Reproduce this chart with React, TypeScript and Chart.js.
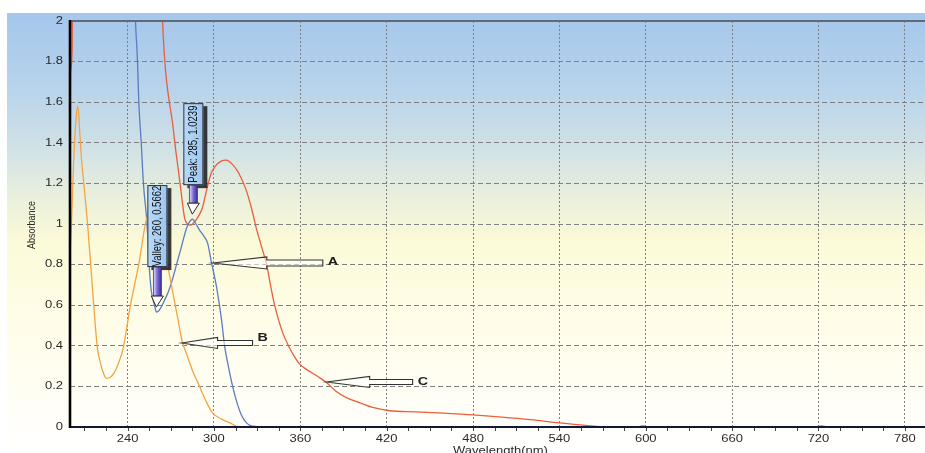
import React, { useEffect, useRef } from "react";
import { Chart, registerables } from "chart.js";
Chart.register(...registerables);

// ---------- data ----------
const WL_A = [200, 201.5, 243, 245.5, 246.9, 247.8, 249.5, 251, 253.5, 254.8, 256.3, 258.7, 260, 262, 265.7, 268, 270.9, 274, 277.5, 281, 283, 285, 287.5, 290, 293, 295.6, 298.3, 301.8, 305.3, 307.4, 310, 313, 316, 319, 322, 325, 330, 340, 594, 598, 602, 718, 722, 726, 794];
const ABS_A = [1.4, 2.6, 2.6, 2.0, 1.8, 1.6, 1.4, 1.2, 1.0, 0.82, 0.68, 0.6, 0.566, 0.575, 0.625, 0.66, 0.72, 0.8, 0.89, 0.98, 1.01, 1.024, 1.0, 0.97, 0.94, 0.906, 0.81, 0.69, 0.527, 0.4, 0.3, 0.2, 0.12, 0.06, 0.025, 0.008, 0.002, 0, 0, 0.006, 0, 0, 0.005, 0, 0];

const WL_B = [200, 201, 202.5, 204, 205.5, 206.8, 208, 209.6, 212.2, 214.5, 216.5, 219, 221, 223, 225.2, 228, 231, 234, 237, 242, 248, 253, 256, 259, 262, 265, 268, 271.5, 275, 278, 281, 285, 290, 295, 299, 305, 311, 318, 794];
const ABS_B = [0.85, 1.0, 1.3, 1.5, 1.58, 1.45, 1.32, 1.2, 1.0, 0.79, 0.6, 0.39, 0.32, 0.27, 0.24, 0.245, 0.27, 0.32, 0.39, 0.6, 0.81, 1.02, 1.055, 1.06, 1.0, 0.9, 0.79, 0.66, 0.53, 0.42, 0.36, 0.28, 0.2, 0.12, 0.07, 0.04, 0.02, 0, 0];

const WL_C = [200, 201.5, 202, 262, 264.3, 265.7, 267, 269, 271.2, 273.5, 276.1, 278, 279.6, 281.5, 284, 286.5, 289, 292, 295, 298.1, 301, 305, 308.8, 312, 316, 319, 322.4, 326, 329.4, 333, 336.6, 339, 341.5, 344, 348, 352.5, 356, 359.5, 364, 368.5, 373, 378, 385, 392, 401, 411, 422, 440, 460, 479.7, 500, 520, 540, 558, 577, 794];
const ABS_C = [1.75, 1.85, 2.6, 2.6, 2.0, 1.82, 1.71, 1.6, 1.5, 1.36, 1.22, 1.11, 1.03, 1.0, 0.995, 1.01, 1.035, 1.08, 1.17, 1.25, 1.285, 1.31, 1.315, 1.3, 1.265, 1.225, 1.167, 1.08, 0.98, 0.89, 0.8, 0.71, 0.62, 0.55, 0.46, 0.39, 0.345, 0.31, 0.285, 0.265, 0.245, 0.22, 0.175, 0.145, 0.12, 0.095, 0.08, 0.075, 0.068, 0.06, 0.049, 0.036, 0.02, 0.008, 0, 0];

const X_TICKS = [240, 300, 360, 420, 480, 540, 600, 660, 720, 780];
const Y_TICKS = [0, 0.2, 0.4, 0.6, 0.8, 1, 1.2, 1.4, 1.6, 1.8, 2];
const X_MIN = 200;
const X_MAX = 794;
const X_MINOR_STEP = 15;
const X_TITLE = "Wavelength(nm)";
const Y_TITLE = "Absorbance";

const MARKERS = [
  { wl: 285, abs: 1.0239, text: "Peak: 285, 1.0239" },
  { wl: 260, abs: 0.5662, text: "Valley: 260, 0.5662" },
];
const CALLOUT_LABELS = ["A", "B", "C"];
const CALLOUT_WL = [299.2, 277.5, 378.3];
const CALLOUT_ABS = [0.808, 0.414, 0.222];

// ---------- styles ----------
const SX = 1.3;
const FONT = "Liberation Sans, Arial, sans-serif";
const MARKER_SHAFT = [18, 29];
const CALLOUT_GEOM = [
  { head: 54, shaft: 56, hh: 6, sh: 3, dy: -1 },
  { head: 36, shaft: 35, hh: 5.5, sh: 2.5, dy: -5 },
  { head: 43, shaft: 43, hh: 5.5, sh: 2.5, dy: 0 },
];

function txt(ctx: CanvasRenderingContext2D, s: string, x: number, y: number, font: string, color: string, align: CanvasTextAlign, baseline: CanvasTextBaseline, rot = 0) {
  ctx.save();
  ctx.translate(x, y);
  ctx.scale(SX, 1);
  if (rot) ctx.rotate(rot);
  ctx.font = font;
  ctx.fillStyle = color;
  ctx.textAlign = align;
  ctx.textBaseline = baseline;
  ctx.fillText(s, 0, 0);
  ctx.restore();
}

const decoPlugin = {
  id: "deco",
  beforeDraw(chart: any) {
    const ctx: CanvasRenderingContext2D = chart.ctx;
    const W = chart.width, H = chart.height;
    ctx.save();
    ctx.fillStyle = "#ffffff";
    ctx.fillRect(0, 0, W, H);
    const g = ctx.createLinearGradient(0, 13, 0, H);
    g.addColorStop(0, "#a5c7ec");
    g.addColorStop(0.18, "#b9d4eb");
    g.addColorStop(0.32, "#d3e3e5");
    g.addColorStop(0.42, "#eaf0dc");
    g.addColorStop(0.52, "#fbfad8");
    g.addColorStop(0.7, "#fffde8");
    g.addColorStop(1, "#ffffff");
    ctx.fillStyle = g;
    ctx.fillRect(7, 13, W - 7, H - 13);
    ctx.restore();
  },
  afterDatasetsDraw(chart: any) {
    const ctx: CanvasRenderingContext2D = chart.ctx;
    const { left, right, top, bottom } = chart.chartArea;
    const xs = chart.scales.x, ys = chart.scales.y;
    ctx.save();
    ctx.strokeStyle = "#5d6b7a";
    ctx.lineWidth = 1.8;
    ctx.beginPath();
    ctx.moveTo(left, top);
    ctx.lineTo(right, top);
    ctx.stroke();
    ctx.strokeStyle = "#101a38";
    ctx.lineWidth = 2;
    ctx.beginPath();
    ctx.moveTo(left, bottom);
    ctx.lineTo(right, bottom);
    ctx.stroke();
    ctx.strokeStyle = "#000000";
    ctx.lineWidth = 2.6;
    ctx.beginPath();
    ctx.moveTo(left, top - 1);
    ctx.lineTo(left, bottom + 1);
    ctx.stroke();
    ctx.strokeStyle = "#444";
    ctx.lineWidth = 1;
    for (let v = Math.ceil(X_MIN / X_MINOR_STEP) * X_MINOR_STEP; v <= X_MAX; v += X_MINOR_STEP) {
      if (v === X_MIN) continue;
      const px = Math.round(xs.getPixelForValue(v)) + 0.5;
      ctx.beginPath();
      ctx.moveTo(px, bottom + 1);
      ctx.lineTo(px, bottom + 4);
      ctx.stroke();
    }
    ctx.restore();

    for (const v of X_TICKS) {
      txt(ctx, String(v), xs.getPixelForValue(v), bottom + 12, `10px ${FONT}`, "#2b2b2b", "center", "middle");
    }
    for (const v of Y_TICKS) {
      txt(ctx, String(+v.toFixed(1)), left - 7, ys.getPixelForValue(v), `10px ${FONT}`, "#2b2b2b", "right", "middle");
    }
    txt(ctx, X_TITLE, (left + right) / 2 + 3, 454, `10px ${FONT}`, "#2b2b2b", "center", "alphabetic");
    txt(ctx, Y_TITLE, 32, (top + bottom) / 2 + 1, `9px ${FONT}`, "#2b2b2b", "center", "middle", -Math.PI / 2);

    MARKERS.forEach((m, i) => {
      const px = xs.getPixelForValue(m.wl);
      const py = ys.getPixelForValue(m.abs);
      const tipY = py - 5;
      const headH = 11, headW = 12, shaftW = 8, boxW = 20, boxH = 82;
      const headTop = tipY - headH;
      const shaftTop = headTop - MARKER_SHAFT[i];
      const boxTop = shaftTop - boxH;
      const cx = px + 1;
      ctx.save();
      ctx.fillStyle = "rgba(35,35,40,0.9)";
      ctx.fillRect(cx - boxW / 2 + 4, boxTop + 3, boxW, boxH);
      const bg = ctx.createLinearGradient(cx - boxW / 2, 0, cx + boxW / 2, 0);
      bg.addColorStop(0, "#b8daf8");
      bg.addColorStop(1, "#9cc6f0");
      ctx.fillStyle = bg;
      ctx.fillRect(cx - boxW / 2, boxTop, boxW, boxH);
      ctx.strokeStyle = "#2e3440";
      ctx.lineWidth = 1;
      ctx.strokeRect(cx - boxW / 2 + 0.5, boxTop + 0.5, boxW - 1, boxH - 1);
      ctx.restore();
      txt(ctx, m.text, cx, boxTop + boxH / 2, `9.5px ${FONT}`, "#111", "center", "middle", -Math.PI / 2);
      ctx.save();
      const sg = ctx.createLinearGradient(cx - shaftW / 2, 0, cx + shaftW / 2, 0);
      sg.addColorStop(0, "#e4e2ff");
      sg.addColorStop(0.5, "#7a6ad8");
      sg.addColorStop(1, "#3c2d9a");
      ctx.fillStyle = sg;
      ctx.fillRect(cx - shaftW / 2, shaftTop, shaftW, MARKER_SHAFT[i]);
      ctx.strokeStyle = "#3a3a50";
      ctx.lineWidth = 0.8;
      ctx.strokeRect(cx - shaftW / 2, shaftTop, shaftW, MARKER_SHAFT[i]);
      ctx.beginPath();
      ctx.moveTo(cx - headW / 2, headTop);
      ctx.lineTo(cx + headW / 2, headTop);
      ctx.lineTo(px, tipY);
      ctx.closePath();
      ctx.fillStyle = "#ffffff";
      ctx.fill();
      ctx.strokeStyle = "#2a2a2a";
      ctx.lineWidth = 1;
      ctx.stroke();
      ctx.restore();
    });

    CALLOUT_LABELS.forEach((lab, i) => {
      const g = CALLOUT_GEOM[i];
      const tx = xs.getPixelForValue(CALLOUT_WL[i]);
      const ty = ys.getPixelForValue(CALLOUT_ABS[i]);
      const hx = tx + g.head, ex = hx + g.shaft;
      ctx.save();
      ctx.beginPath();
      ctx.moveTo(tx, ty);
      ctx.lineTo(hx, ty - g.hh);
      ctx.lineTo(hx, ty - g.sh);
      ctx.lineTo(ex, ty - g.sh);
      ctx.lineTo(ex, ty + g.sh);
      ctx.lineTo(hx, ty + g.sh);
      ctx.lineTo(hx, ty + g.hh);
      ctx.closePath();
      ctx.fillStyle = "rgba(255,255,255,0.55)";
      ctx.fill();
      ctx.strokeStyle = "#333";
      ctx.lineWidth = 1.1;
      ctx.stroke();
      ctx.restore();
      txt(ctx, lab, ex + 5, ty + g.dy, `bold 11px ${FONT}`, "#1e1e1e", "left", "middle");
    });
  },
};

function makeData(xs: number[], ys: number[]) {
  return xs.map((x, i) => ({ x, y: ys[i] }));
}

export default function App() {
  const ref = useRef<HTMLCanvasElement>(null);
  useEffect(() => {
    const canvas = ref.current!;
    const line = { pointRadius: 0, borderWidth: 1.3, fill: false, cubicInterpolationMode: "monotone" as const };
    const chart = new Chart(canvas, {
      type: "line",
      data: {
        datasets: [
          { label: "B", data: makeData(WL_B, ABS_B), borderColor: "#f2a445", ...line },
          { label: "A", data: makeData(WL_A, ABS_A), borderColor: "#5b7dc0", ...line },
          { label: "C", data: makeData(WL_C, ABS_C), borderColor: "#ea5e3c", ...line },
        ],
      },
      options: {
        animation: false,
        responsive: false,
        devicePixelRatio: 1,
        layout: { padding: { top: 21, left: 0, right: 0, bottom: 0 } },
        plugins: { legend: { display: false }, tooltip: { enabled: false } },
        scales: {
          x: {
            type: "linear",
            min: X_MIN,
            max: X_MAX,
            afterBuildTicks: (s: any) => { s.ticks = X_TICKS.map((v) => ({ value: v })); },
            afterFit: (s: any) => { s.height = 26; },
            ticks: { display: false },
            grid: { color: "#7f7f7f", lineWidth: 1, drawTicks: false },
            border: { display: false, dash: [2, 2] },
          },
          y: {
            type: "linear",
            min: 0,
            max: 2,
            afterBuildTicks: (s: any) => { s.ticks = Y_TICKS.map((v) => ({ value: v })); },
            afterFit: (s: any) => { s.width = 70; },
            ticks: { display: false },
            grid: { color: "#7f7f7f", lineWidth: 1, drawTicks: false },
            border: { display: false, dash: [5, 3] },
          },
        },
      },
      plugins: [decoPlugin],
    } as any);
    return () => chart.destroy();
  }, []);
  return (
    <div style={{ position: "fixed", left: 0, top: 0, width: 925, height: 453, background: "#fff" }}>
      <canvas ref={ref} width={925} height={453} style={{ display: "block", width: 925, height: 453 }} />
    </div>
  );
}
